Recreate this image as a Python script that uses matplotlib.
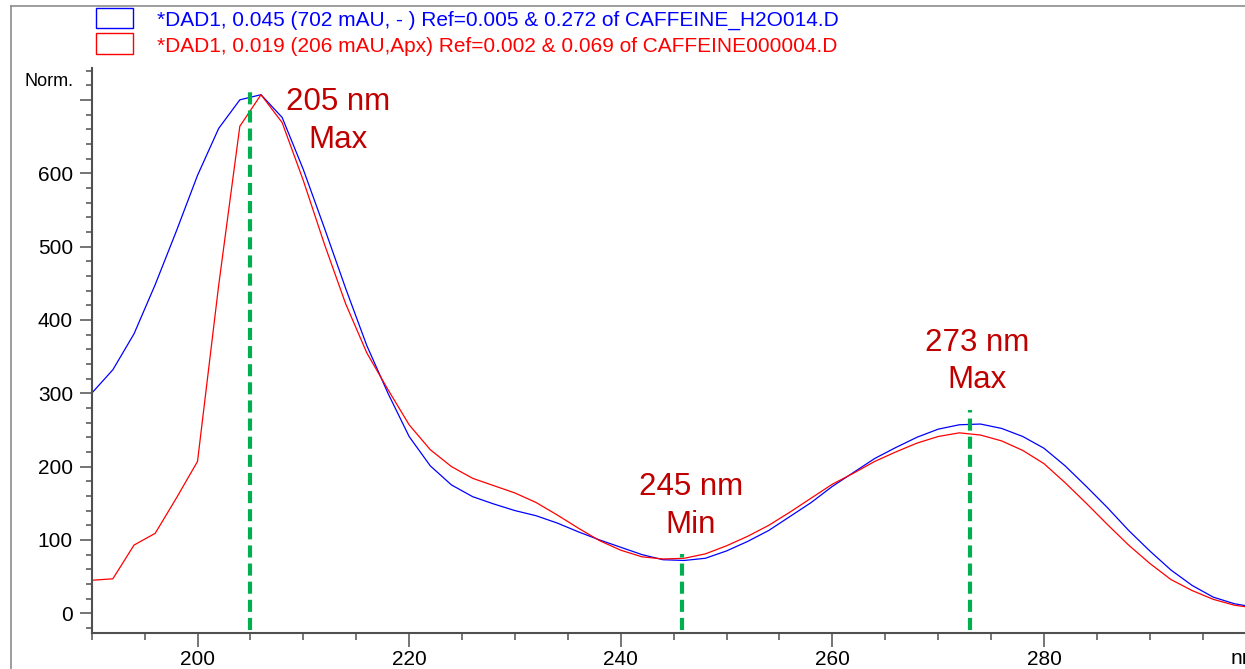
#!/usr/bin/env python3
import matplotlib
matplotlib.use('Agg')
import matplotlib.pyplot as plt
from matplotlib.ticker import MultipleLocator
from matplotlib.lines import Line2D
from matplotlib.patches import Rectangle

wavelength = [190, 192, 194, 196, 198, 200, 202, 204, 206, 208,
              210, 212, 214, 216, 218, 220, 222, 224, 226, 228,
              230, 232, 234, 236, 238, 240, 242, 244, 246, 248,
              250, 252, 254, 256, 258, 260, 262, 264, 266, 268,
              270, 272, 274, 276, 278, 280, 282, 284, 286, 288,
              290, 292, 294, 296, 298, 300]

h2o_signal = [300, 332, 381, 448, 521, 597, 661, 700, 707, 676,
              605, 525, 443, 365, 300, 241, 201, 175, 159, 149,
              140, 133, 123, 111, 100, 90, 80, 73, 72, 75,
              85, 98, 113, 132, 151, 173, 192, 211, 226, 240,
              251, 257, 258, 252, 241, 225, 201, 173, 144, 113,
              85, 59, 38, 22, 13, 8]

apx_signal = [45, 47, 93, 109, 157, 207, 447, 664, 707, 669,
              590, 503, 422, 355, 305, 257, 223, 200, 184, 174,
              164, 151, 134, 116, 99, 86, 77, 74, 75, 81,
              92, 105, 120, 138, 157, 176, 191, 207, 220, 232,
              241, 246, 243, 235, 222, 204, 178, 150, 121, 93,
              68, 46, 31, 19, 11, 7]

legend_labels = ["*DAD1, 0.045 (702 mAU, - ) Ref=0.005 & 0.272 of CAFFEINE_H2O014.D",
                 "*DAD1, 0.019 (206 mAU,Apx) Ref=0.002 & 0.069 of CAFFEINE000004.D"]

# marker lines: wavelength, top of dashed line
marker_x = [205, 245.8, 273]
marker_top = [713, 81, 277]

# annotations: x, baseline of first line, baseline of second line
note_lines = [("205 nm", "Max"), ("245 nm", "Min"), ("273 nm", "Max")]
note_x = [213.3, 246.6, 273.7]
note_y = [(686, 634), (161, 109), (358, 307)]

W, H = 1245, 669
FONT = ['Liberation Sans', 'DejaVu Sans']
AXIS_COL = '#505050'


def main():
    plt.rcParams['font.family'] = FONT
    fig = plt.figure(figsize=(W / 100, H / 100), dpi=100)
    ax = fig.add_axes([91.7 / W, (H - 633.3) / H, 1 - 91.7 / W, 565 / H])

    ax.plot(wavelength, h2o_signal, color='#0000ff', lw=0.9)
    ax.plot(wavelength, apx_signal, color='#ff0000', lw=0.9)

    for x, top in zip(marker_x, marker_top):
        ax.plot([x, x], [-23, top], color='#00b050', lw=3.0,
                dashes=(2.9, 1.45))

    for (l1, l2), x, (y1, y2) in zip(note_lines, note_x, note_y):
        ax.text(x, y1, l1, color='#c00000', fontsize=22.5, ha='center', va='baseline')
        ax.text(x, y2, l2, color='#c00000', fontsize=22.5, ha='center', va='baseline')

    ax.set_xlim(190, 299)
    ax.set_ylim(-27.3, 743)
    for s in ['top', 'right']:
        ax.spines[s].set_visible(False)
    for s in ['left', 'bottom']:
        ax.spines[s].set_color(AXIS_COL)
        ax.spines[s].set_linewidth(1.5)

    ax.set_xticks([200, 220, 240, 260, 280])
    ax.xaxis.set_minor_locator(MultipleLocator(5))
    ax.set_yticks([0, 100, 200, 300, 400, 500, 600, 700])
    ax.set_yticklabels(['0', '100', '200', '300', '400', '500', '600', ''])
    ax.yaxis.set_minor_locator(MultipleLocator(20))

    ax.tick_params(axis='x', which='major', length=10, width=1.1, color=AXIS_COL,
                   labelsize=15, pad=2)
    ax.tick_params(axis='x', which='minor', length=5, width=1.1, color=AXIS_COL)
    ax.tick_params(axis='y', which='major', length=8.5, width=1.1, color=AXIS_COL,
                   labelsize=15, pad=5)
    ax.tick_params(axis='y', which='minor', length=4.3, width=1.1, color=AXIS_COL)

    fig.text(24 / W, 1 - 81 / H, 'Norm.', fontsize=13, va='center', ha='left')
    fig.text(1231 / W, 1 - 658 / H, 'nm', fontsize=15, va='center', ha='left')

    # outer frame lines
    fig.add_artist(Line2D([11 / W, 11 / W], [0, 1 - 6 / H], color='#8c8c8c',
                          lw=1.2, transform=fig.transFigure))
    fig.add_artist(Line2D([11 / W, 1], [1 - 6 / H, 1 - 6 / H], color='#8c8c8c',
                          lw=1.2, transform=fig.transFigure))

    # legend
    for i, (lab, col) in enumerate(zip(legend_labels, ['#0000ff', '#ff0000'])):
        top = 8 + i * 25.5
        fig.add_artist(Rectangle((96 / W, 1 - (top + 20) / H), 37 / W, 20 / H,
                                 fill=False, edgecolor=col, lw=1.0,
                                 transform=fig.transFigure))
        fig.text(157 / W, 1 - (26 + i * 25.5) / H, lab, color=col, fontsize=15,
                 va='baseline', ha='left')

    fig.savefig('out.png', dpi=100, facecolor='white')


if __name__ == "__main__":
    main()
